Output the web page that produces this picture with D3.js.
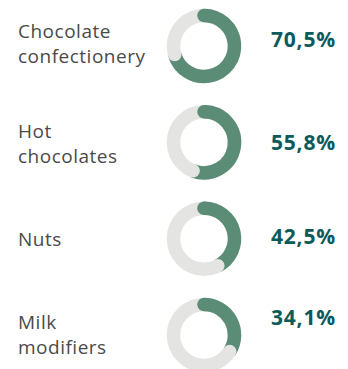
<!DOCTYPE html>
<html><head><meta charset="utf-8">
<script src="https://cdn.jsdelivr.net/npm/d3@7"></script>
<style>
html,body{margin:0;padding:0;background:#fff;}
svg{display:block;}
</style></head>
<body>
<svg id="chart" width="348" height="369"></svg>
<script>
// ---- data ----
const categories = [["Chocolate","confectionery"],["Hot","chocolates"],["Nuts"],["Milk","modifiers"]];
const values = [70.5, 55.8, 42.5, 34.1];
const valueLabels = ["70,5%","55,8%","42,5%","34,1%"];

// ---- layout (not data) ----
const labelDy = [-8, -4, 7, -6];   // first-line baseline offset from row centre
const valueDy = [1, 8, 5, -10];    // value baseline offset from row centre
const lineH = 25;
const cx = 204, rMid = 30.5, thick = 13.5;
const green = "#5b8c76", grey = "#e4e4e2";

const svg = d3.select("#chart");
const y = d3.scaleLinear().domain([0, categories.length - 1]).range([46, 335]);
const ang = d3.scaleLinear().domain([0, 100]).range([0, 2 * Math.PI]);

function arcPath(a0, a1) {
  const p = d3.path();
  p.arc(0, 0, rMid, a0 - Math.PI / 2, a1 - Math.PI / 2, false);
  return p.toString();
}
const px = a => rMid * Math.sin(a);
const py = a => -rMid * Math.cos(a);

const rows = svg.selectAll("g.row").data(values).join("g")
  .attr("class", "row")
  .attr("transform", (d, i) => `translate(0,${y(i)})`);

const ring = rows.append("g").attr("transform", `translate(${cx},0)`);
ring.append("circle").attr("r", rMid).attr("fill", "none")
  .attr("stroke", grey).attr("stroke-width", thick);
// green arc, butt ends
ring.append("path").attr("d", d => arcPath(0, ang(d)))
  .attr("fill", "none").attr("stroke", green).attr("stroke-width", thick);
// rounded start cap (green, bulging into grey)
ring.append("circle").attr("cx", px(0)).attr("cy", py(0)).attr("r", thick / 2)
  .attr("fill", green);
// rounded grey cap at the end (bulging into green)
ring.append("circle").attr("cx", d => px(ang(d))).attr("cy", d => py(ang(d)))
  .attr("r", thick / 2).attr("fill", grey);

rows.append("text")
  .attr("x", 18)
  .attr("font-family", "'Open Sans', 'Noto Sans', sans-serif")
  .attr("font-size", 19)
  .attr("letter-spacing", 0.5)
  .attr("fill", "#4a4a4a")
  .each(function (d, i) {
    const t = d3.select(this);
    categories[i].forEach((line, k) => {
      t.append("tspan").attr("x", 18).attr("y", labelDy[i] + k * lineH).text(line);
    });
  });

rows.append("text")
  .attr("x", 271)
  .attr("y", (d, i) => valueDy[i])
  .attr("font-family", "'Open Sans', 'Noto Sans', sans-serif")
  .attr("font-size", 21)
  .attr("font-weight", 700)
  .attr("letter-spacing", 0.8)
  .attr("fill", "#0d5a5b")
  .text((d, i) => valueLabels[i]);
</script>
</body></html>
